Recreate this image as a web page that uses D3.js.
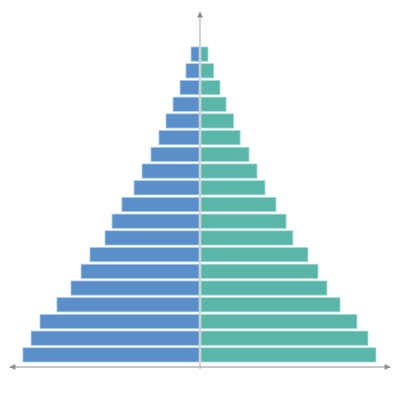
<!DOCTYPE html>
<html>
<head>
<meta charset="utf-8">
<script src="https://cdn.jsdelivr.net/npm/d3@7"></script>
<style>
html,body{margin:0;padding:0;background:#fff;}
svg{display:block;}
</style>
</head>
<body>
<svg id="chart" width="400" height="400"></svg>
<script>
const ageGroups = ["0-4","5-9","10-14","15-19","20-24","25-29","30-34","35-39","40-44","45-49","50-54","55-59","60-64","65-69","70-74","75-79","80-84","85-89","90+"];
const male   = [93.2, 88.9, 84.2, 75.3, 67.9, 62.6, 57.9, 50.0, 46.3, 41.1, 34.7, 30.5, 25.8, 21.6, 17.9, 14.2, 10.5, 7.4, 4.7];
const female = [92.6, 88.4, 82.6, 73.7, 66.8, 62.1, 56.8, 48.9, 45.3, 40.0, 34.2, 30.0, 25.8, 21.1, 17.7, 13.7, 10.5, 7.2, 4.2];

const svg = d3.select("#chart");
const x = d3.scaleLinear().domain([-100, 100]).range([10, 390]);
const y = d3.scaleBand().domain(ageGroups.slice().reverse()).range([44.5, 364.5]).padding(0.15);

const data = ageGroups.map((a, i) => ({age: a, m: male[i], f: female[i]}));

const defs = svg.append("defs");
function marker(id, color, w, h) {
  defs.append("marker").attr("id", id)
    .attr("viewBox", "0 0 10 10").attr("refX", 9).attr("refY", 5)
    .attr("markerWidth", w).attr("markerHeight", h)
    .attr("markerUnits", "userSpaceOnUse")
    .attr("orient", "auto-start-reverse")
    .append("path").attr("d", "M0,0 L10,5 L0,10 Z").attr("fill", color);
}
marker("arrH", "#8f8f8f", 7, 6);
marker("arrV", "#8f8f8f", 7, 6);

svg.append("g").selectAll("rect.m").data(data).join("rect")
  .attr("x", d => x(-d.m))
  .attr("y", d => y(d.age))
  .attr("width", d => x(0) - 1 - x(-d.m))
  .attr("height", y.bandwidth())
  .attr("fill", "#5b8fc9")
  .attr("stroke", "#a9cbe8").attr("stroke-width", 0.8);

svg.append("g").selectAll("rect.f").data(data).join("rect")
  .attr("x", x(0) + 1)
  .attr("y", d => y(d.age))
  .attr("width", d => x(d.f) - x(0) - 1)
  .attr("height", y.bandwidth())
  .attr("fill", "#5bb6aa")
  .attr("stroke", "#a6dcd3").attr("stroke-width", 0.8);

// vertical axis
svg.append("line")
  .attr("x1", x(0)).attr("x2", x(0))
  .attr("y1", 369).attr("y2", 12)
  .attr("stroke", "#c9c9c9").attr("stroke-width", 1.6)
  .attr("marker-end", "url(#arrV)");

// horizontal axis
svg.append("line")
  .attr("x1", x(-100)).attr("x2", x(100))
  .attr("y1", 367).attr("y2", 367)
  .attr("stroke", "#b5b5b5").attr("stroke-width", 1.6)
  .attr("marker-start", "url(#arrH)")
  .attr("marker-end", "url(#arrH)");
</script>
</body>
</html>
